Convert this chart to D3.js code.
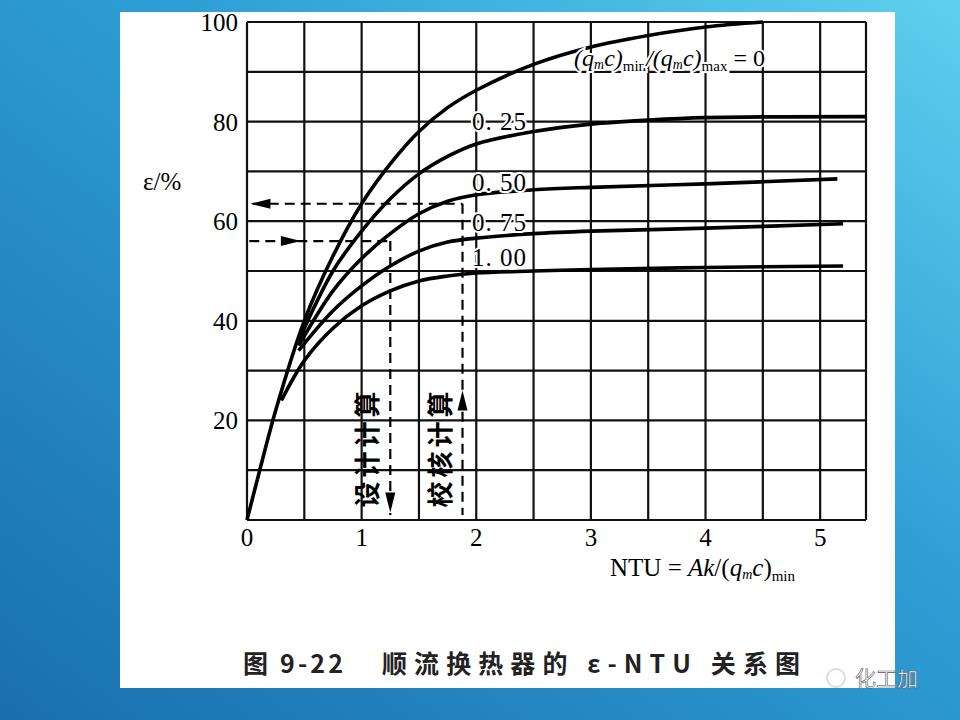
<!DOCTYPE html><html><head><meta charset="utf-8"><script src="https://cdn.jsdelivr.net/npm/d3@7"></script>
<style>body{margin:0}svg{display:block}</style></head><body><svg id="c" width="960" height="720"></svg><script>
const xTicks=[0,1,2,3,4,5];
const yTicks=[20,40,60,80,100];
const seriesLabels=["0","0.25","0.50","0.75","1.00"];
const c0=[[0,0],[0.1,9],[0.25,22],[0.5,40],[0.75,53],[1,63.5],[1.25,71.5],[1.5,78],[1.75,82.8],[2,86.3],[2.5,91.5],[3,95],[3.5,97.3],[4,99],[4.5,100]];
const c25=[[0.45,36],[0.75,50],[1,58],[1.25,64.5],[1.5,69.5],[1.75,73],[2,75.5],[2.5,78],[3,79.5],[3.5,80.3],[4,80.8],[5.4,81]];
const c50=[[0.45,35],[0.75,46],[1,52.5],[1.25,57.5],[1.5,61.5],[1.75,64],[2,65.3],[2.5,66.3],[3,66.8],[4,67.5],[5.15,68.5]];
const c75=[[0.45,34],[0.75,42],[1,47],[1.25,51],[1.5,54],[1.75,55.8],[2,56.6],[2.5,57.5],[3,58],[4,58.6],[5.2,59.5]];
const c100=[[0.3,24],[0.5,32],[0.75,38.5],[1,43],[1.25,46],[1.5,48],[1.75,49],[2,49.6],[2.5,50],[3,50.3],[4,50.7],[5.2,51]];
const curves=[c0,c25,c50,c75,c100];
const svg=d3.select("#c");
const defs=svg.append("defs");
const g=defs.append("linearGradient").attr("id","bg").attr("x1","0").attr("y1","1").attr("x2","1").attr("y2","0");
g.append("stop").attr("offset","0").attr("stop-color","#1a6fae");
g.append("stop").attr("offset","0.6").attr("stop-color","#2f9fd6");
g.append("stop").attr("offset","1").attr("stop-color","#5fd0ee");
svg.append("rect").attr("width",960).attr("height",720).attr("fill","url(#bg)");
svg.append("rect").attr("x",120).attr("y",12).attr("width",775).attr("height",676).attr("fill","#fff");
const x=d3.scaleLinear().domain([0,5.4]).range([247,866]);
const y=d3.scaleLinear().domain([0,100]).range([520,22]);
const grid=svg.append("g").attr("stroke","#111").attr("stroke-width",2.2);
d3.range(0,5.41,0.5).concat([5.4]).forEach(v=>grid.append("line").attr("x1",x(v)).attr("x2",x(v)).attr("y1",y(0)).attr("y2",y(100)));
d3.range(0,101,10).forEach(v=>grid.append("line").attr("x1",x(0)).attr("x2",x(5.4)).attr("y1",y(v)).attr("y2",y(v)));
const font="'Liberation Serif','DejaVu Serif',serif";
svg.append("g").selectAll("text").data(xTicks).join("text").attr("x",d=>x(d)).attr("y",546).attr("text-anchor","middle").attr("font-family",font).attr("font-size",25).text(d=>d);
svg.append("g").selectAll("text").data(yTicks).join("text").attr("x",238).attr("y",d=>y(d)+9).attr("text-anchor","end").attr("font-family",font).attr("font-size",25).text(d=>d);
svg.append("text").attr("x",143).attr("y",190).attr("font-family",font).attr("font-size",25).text("ε/%");
const line=d3.line().x(d=>x(d[0])).y(d=>y(d[1])).curve(d3.curveCatmullRom);
svg.append("g").selectAll("path").data(curves).join("path").attr("d",line).attr("fill","none").attr("stroke","#000").attr("stroke-width",3.6);
const dg=svg.append("g").attr("stroke","#000").attr("stroke-width",2.2).attr("stroke-dasharray","10,6").attr("fill","none");
dg.append("line").attr("x1",x(0.05)).attr("x2",x(1.88)).attr("y1",y(63.5)).attr("y2",y(63.5));
dg.append("line").attr("x1",x(0.02)).attr("x2",x(1.25)).attr("y1",y(56)).attr("y2",y(56));
dg.append("line").attr("x1",x(1.25)).attr("x2",x(1.25)).attr("y1",y(56)).attr("y2",y(1));
dg.append("line").attr("x1",x(1.88)).attr("x2",x(1.88)).attr("y1",y(63.5)).attr("y2",y(1));
function arrow(px,py,dir){const s=10,w=5;let p;
 if(dir=="l")p=[[px,py],[px+s*2,py-w],[px+s*2,py+w]];
 if(dir=="r")p=[[px,py],[px-s*2,py-w],[px-s*2,py+w]];
 if(dir=="d")p=[[px,py],[px-w,py-s*2],[px+w,py-s*2]];
 if(dir=="u")p=[[px,py],[px-w,py+s*2],[px+w,py+s*2]];
 svg.append("polygon").attr("points",p.map(q=>q.join(",")).join(" ")).attr("fill","#000");}
arrow(x(0.03),y(63.5),"l");arrow(x(0.47),y(56),"r");arrow(x(1.25),y(1.5),"d");arrow(x(1.88),y(26),"u");
const cj="'Noto Sans CJK SC',sans-serif";
[["设计计算",1.05],["校核计算",1.68]].forEach(([t,v])=>{
 svg.append("text").attr("transform",`translate(${x(v)+10},${y(2.5)}) rotate(-90)`).attr("font-family",cj).attr("font-size",26).attr("font-weight",700).attr("letter-spacing",4).text(t);});
[["0. 25",125],["0. 50",186],["0. 75",226],["1. 00",261]].forEach(([t,yy])=>svg.append("text").attr("x",472).attr("y",yy+5).attr("font-family",font).attr("font-size",25).attr("letter-spacing",1).text(t).attr("stroke","#fff").attr("stroke-width",4).attr("paint-order","stroke"));
const lg=svg.append("text").attr("x",574).attr("y",66).attr("font-family",font).attr("font-size",24).attr("font-style","italic").attr("stroke","#fff").attr("stroke-width",4).attr("paint-order","stroke");
lg.append("tspan").text("(q");lg.append("tspan").attr("font-size",14).attr("dy",3).text("m");lg.append("tspan").attr("dy",-3).text("c)");
lg.append("tspan").attr("font-size",15).attr("font-style","normal").attr("dy",5).text("min");lg.append("tspan").attr("dy",-5).text("/(q");
lg.append("tspan").attr("font-size",14).attr("dy",3).text("m");lg.append("tspan").attr("dy",-3).text("c)");
lg.append("tspan").attr("font-size",15).attr("font-style","normal").attr("dy",5).text("max");lg.append("tspan").attr("dy",-5).attr("font-style","normal").text(" = 0");
const nl=svg.append("text").attr("x",610).attr("y",576).attr("font-family",font).attr("font-size",25);
nl.append("tspan").text("NTU = ");nl.append("tspan").attr("font-style","italic").text("Ak");nl.append("tspan").text("/(");
nl.append("tspan").attr("font-style","italic").text("q");nl.append("tspan").attr("font-size",14).attr("font-style","italic").attr("dy",3).text("m");
nl.append("tspan").attr("dy",-3).attr("font-style","italic").text("c");nl.append("tspan").text(")");
nl.append("tspan").attr("font-size",15).attr("dy",5).text("min");
svg.append("text").attr("x",243).attr("y",673).attr("font-family",cj).attr("font-size",25).attr("font-weight",700).attr("fill","#222").attr("textLength",100).attr("lengthAdjust","spacing").text("图 9-22");
svg.append("text").attr("x",382).attr("y",673).attr("font-family",cj).attr("font-size",25).attr("font-weight",700).attr("fill","#222").attr("textLength",418).attr("lengthAdjust","spacing").text("顺流换热器的 ε-NTU 关系图");
svg.append("circle").attr("cx",836).attr("cy",678).attr("r",9).attr("fill","none").attr("stroke","#ddd").attr("stroke-width",2);
svg.append("text").attr("x",855).attr("y",686).attr("font-family",cj).attr("font-size",21).attr("fill","#fff").attr("stroke","#555").attr("stroke-width",0.6).text("化工加");
</script></body></html>
